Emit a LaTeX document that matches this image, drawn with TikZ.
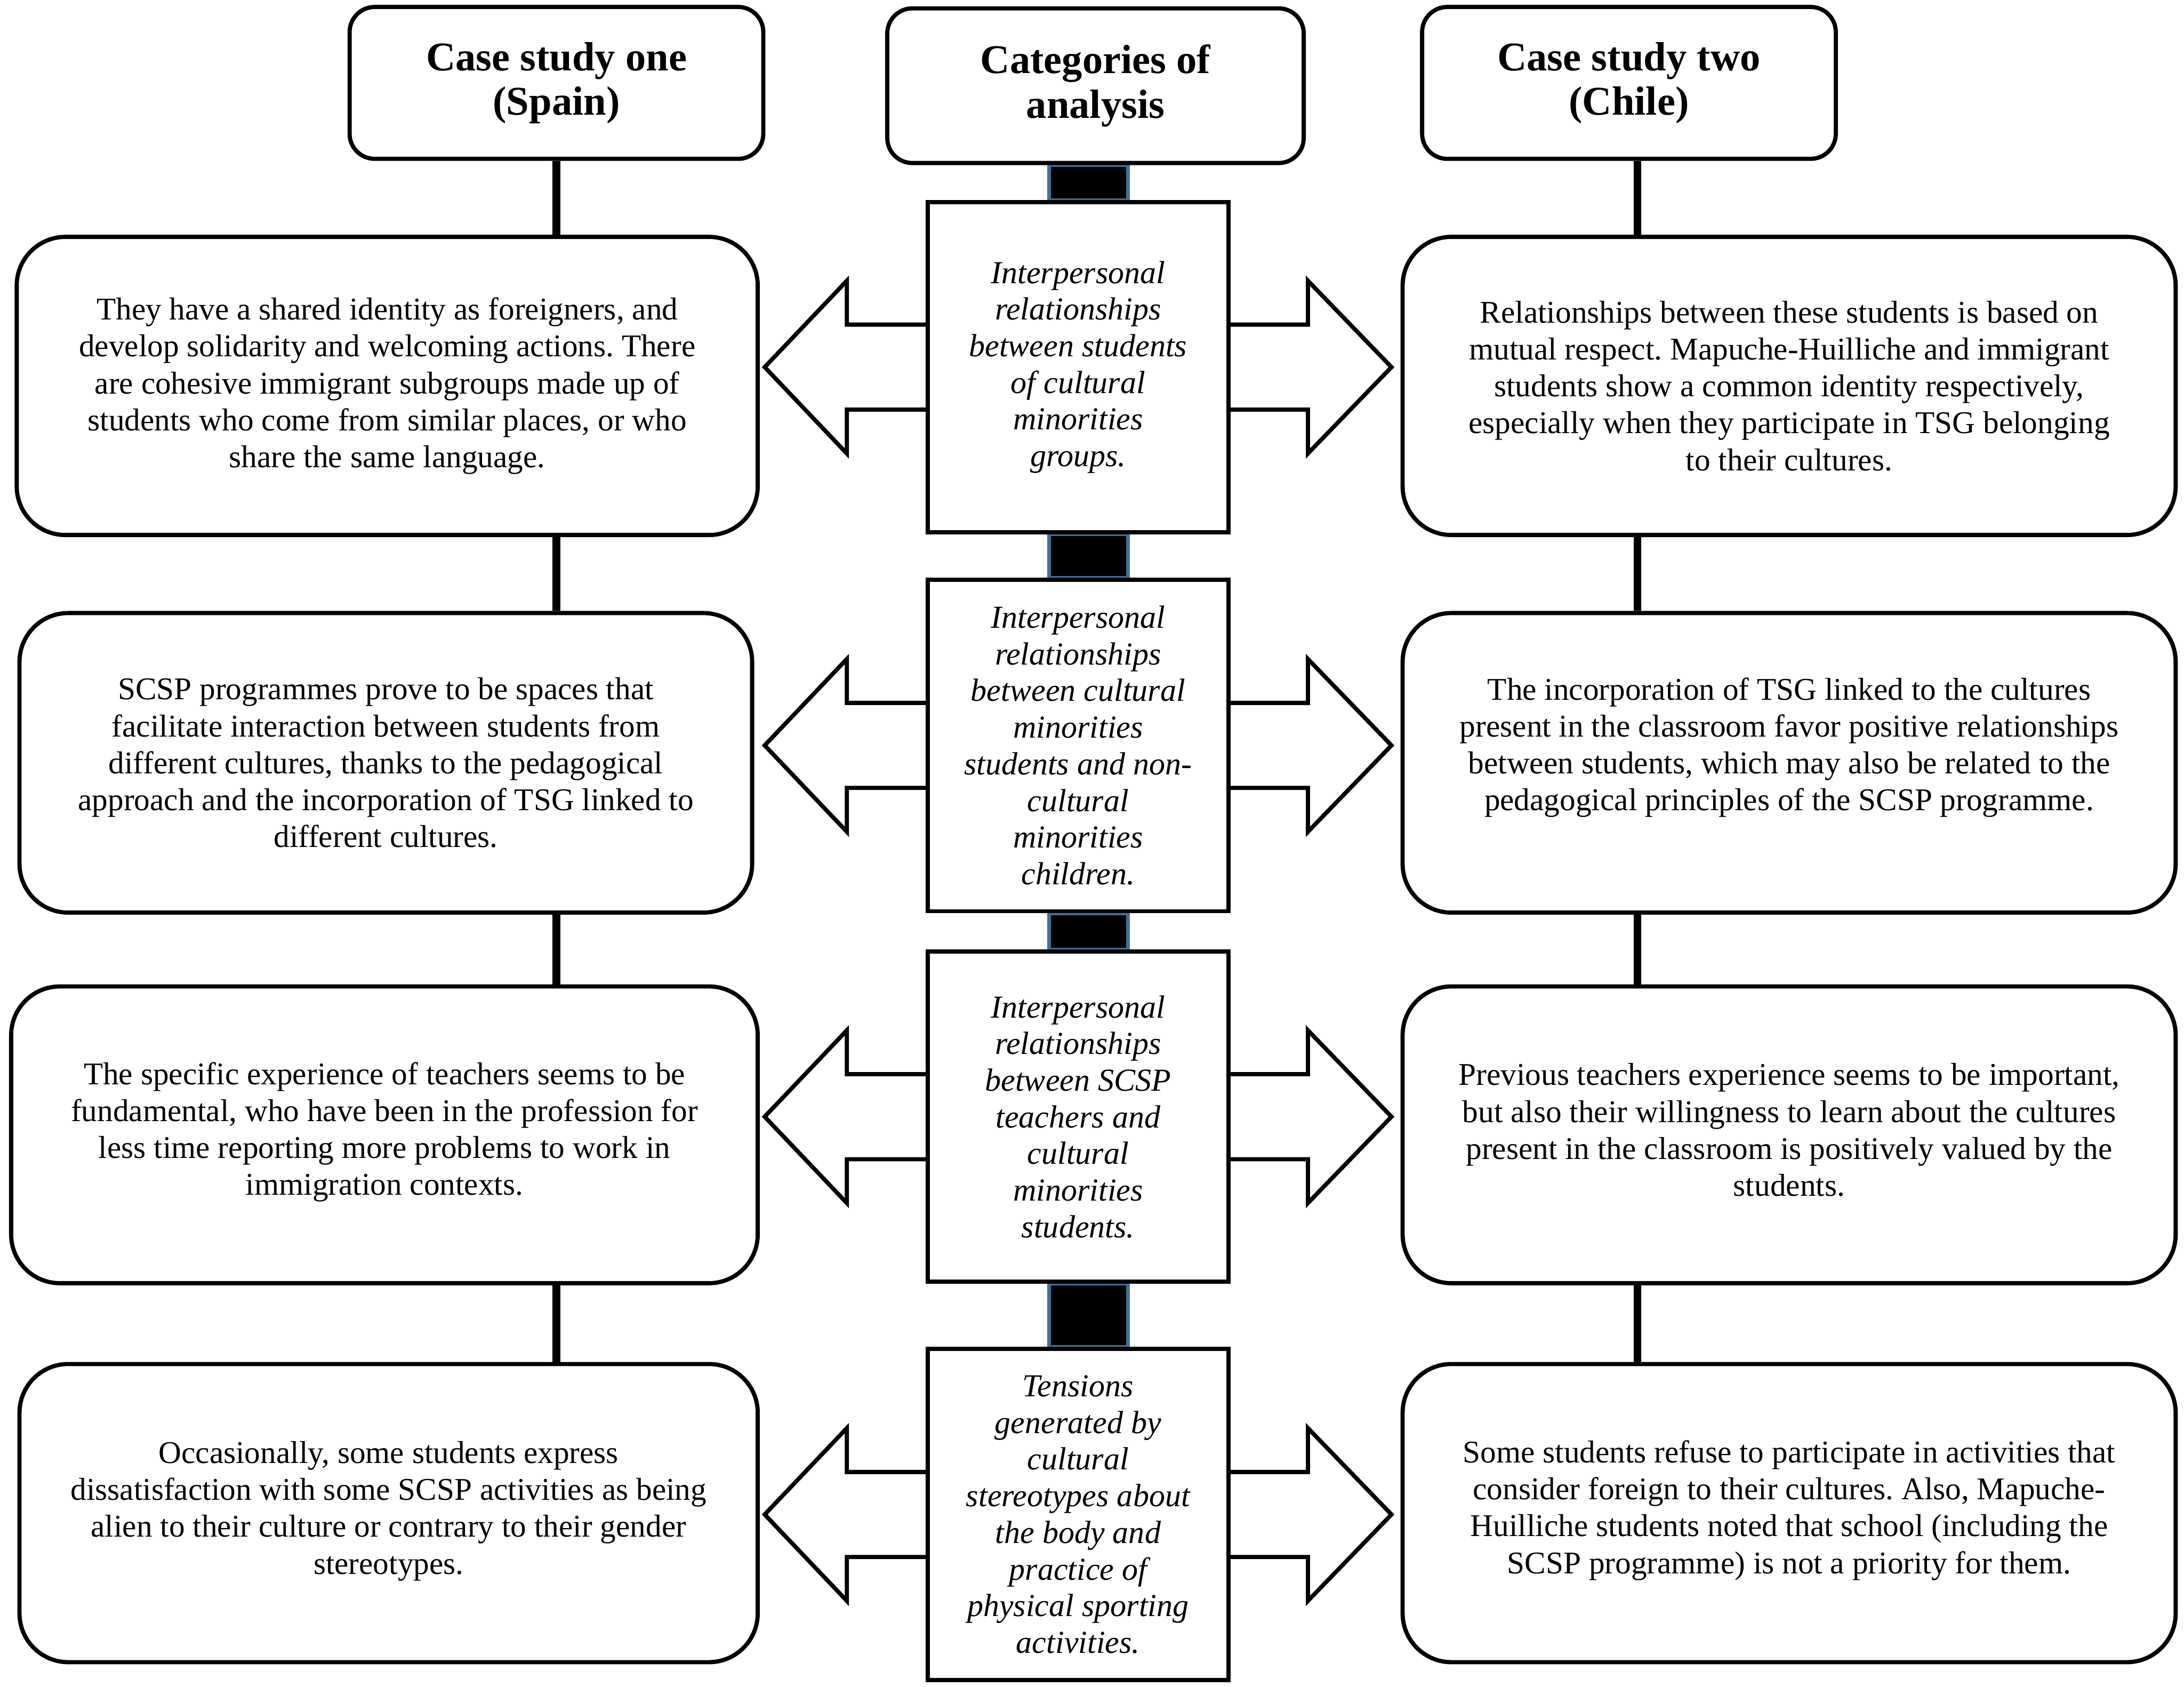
\documentclass[tikz,border=0pt]{standalone}
\usepackage{fontspec}
\setmainfont{Liberation Serif}
\usetikzlibrary{calc,backgrounds}
\definecolor{barblue}{RGB}{65,113,156}
\frenchspacing
\begin{document}
\begin{tikzpicture}[x=1pt,y=-1pt,
  hdr/.style={draw, line width=3pt, rounded corners=18pt, fill=white,
    minimum width=297pt, minimum height=109pt, align=center, inner sep=0pt,
    font=\fontsize{29.3}{32}\selectfont\bfseries},
  cbox/.style={draw, line width=3pt, rounded corners=35pt, fill=white,
    minimum height=214pt, align=center, inner sep=0pt,
    font=\fontsize{22.7}{26.5}\selectfont},
  txt/.style={align=center, inner sep=0pt, font=\fontsize{22.7}{26.5}\selectfont},
  catbox/.style={draw, line width=3pt, fill=white, minimum width=216pt,
    minimum height=237pt, align=center, inner sep=0pt,
    font=\fontsize{23}{26.3}\selectfont\itshape},
  conn/.style={line width=5.5pt, black},
  bar/.style={fill=black, draw=barblue, line width=2.5pt},
  dblarrow/.style={draw, line width=3pt, fill=white, line join=miter}
]
\useasboundingbox (0,0) rectangle (1568,1210.5);

% headers
\node[hdr] (lh) at (399.5,59.5) {Case study one\\(Spain)};
\node[hdr, minimum width=299pt, minimum height=111pt] (ch) at (786.5,61.5) {Categories of\\analysis};
\node[hdr] (rh) at (1169.5,59.5) {Case study two\\(Chile)};

% category boxes
\node[catbox] (c1) at (774,263.5) {Interpersonal\\relationships\\between students\\of cultural\\minorities\\groups.};
\node[catbox, minimum height=238pt] (c2) at (774,535) {Interpersonal\\relationships\\between cultural\\minorities\\students and non-\\cultural\\minorities\\children.};
\node[catbox] (c3) at (774,801.5) {Interpersonal\\relationships\\between SCSP\\teachers and\\cultural\\minorities\\students.};
\node[catbox, minimum height=238pt] (c4) at (774,1087) {Tensions\\generated by\\cultural\\stereotypes about\\the body and\\practice of\\physical sporting\\activities.};

% left column
\node[cbox, minimum width=532pt] (l1) at (278,277) {They have a shared identity as foreigners, and\\develop solidarity and welcoming actions. There\\are cohesive immigrant subgroups made up of\\students who come from similar places, or who\\share the same language.};
\node[cbox, minimum width=526pt, minimum height=215pt] (l2) at (277,547.5) {SCSP programmes prove to be spaces that\\facilitate interaction between students from\\different cultures, thanks to the pedagogical\\approach and the incorporation of TSG linked to\\different cultures.};
\node[cbox, minimum width=536pt, minimum height=213pt] (l3) at (276,814.5) {};
\node[txt] (l3t) at ([yshift=2pt]l3.center) {The specific experience of teachers seems to be\\fundamental, who have been in the profession for\\less time reporting more problems to work in\\immigration contexts.};
\node[cbox, minimum width=530pt] (l4) at (279,1086) {};
\node[txt] (l4t) at ([yshift=1.5pt]l4.center) {Occasionally, some students express\\dissatisfaction with some SCSP activities as being\\alien to their culture or contrary to their gender\\stereotypes.};

% right column
\node[cbox, minimum width=555pt] (r1) at (1284.5,277) {Relationships between these students is based on\\mutual respect. Mapuche-Huilliche and immigrant\\students show a common identity respectively,\\especially when they participate in TSG belonging\\to their cultures.};
\node[cbox, minimum width=555pt, minimum height=215pt] (r2) at (1284.5,547.5) {};
\node[txt] (r2t) at ([yshift=11pt]r2.center) {The incorporation of TSG linked to the cultures\\present in the classroom favor positive relationships\\between students, which may also be related to the\\pedagogical principles of the SCSP programme.};
\node[cbox, minimum width=555pt, minimum height=213pt] (r3) at (1284.5,814.5) {};
\node[txt] (r3t) at ([yshift=3.5pt]r3.center) {Previous teachers experience seems to be important,\\but also their willingness to learn about the cultures\\present in the classroom is positively valued by the\\students.};
\node[cbox, minimum width=555pt] (r4) at (1284.5,1086) {};
\node[txt] (r4t) at ([yshift=2pt]r4.center) {Some students refuse to participate in activities that\\consider foreign to their cultures. Also, Mapuche-\\Huilliche students noted that school (including the\\SCSP programme) is not a priority for them.};

% double arrows and bars behind the category boxes
\begin{scope}[on background layer]
\foreach \c in {c1,c2,c3,c4}{
  \draw[dblarrow] ([shift={(-225,0)}]\c.center) -- ([shift={(-166,-62)}]\c.center)
    -- ([shift={(-166,-30.5)}]\c.center) -- ([shift={(165,-30.5)}]\c.center)
    -- ([shift={(165,-62)}]\c.center) -- ([shift={(225,0)}]\c.center)
    -- ([shift={(165,62)}]\c.center) -- ([shift={(165,30.5)}]\c.center)
    -- ([shift={(-166,30.5)}]\c.center) -- ([shift={(-166,62)}]\c.center) -- cycle;
}
\draw[bar] ([xshift=-20.75pt]c1.north |- ch.south) rectangle ([xshift=35.75pt]c1.north);
\draw[bar] ([xshift=-20.75pt]c1.south) rectangle ([xshift=35.75pt]c2.north);
\draw[bar] ([xshift=-20.75pt]c2.south) rectangle ([xshift=35.75pt]c3.north);
\draw[bar] ([xshift=-20.75pt]c3.south) rectangle ([xshift=35.75pt]c4.north);
\end{scope}

% vertical connectors
\coordinate (lx) at (lh.south);
\coordinate (rx) at ([xshift=6pt]rh.south);
\draw[conn] (lx) -- (lx |- l1.north);
\draw[conn] (l1.south -| lx) -- (l2.north -| lx);
\draw[conn] (l2.south -| lx) -- (l3.north -| lx);
\draw[conn] (l3.south -| lx) -- (l4.north -| lx);
\draw[conn] (rx) -- (rx |- r1.north);
\draw[conn] (r1.south -| rx) -- (r2.north -| rx);
\draw[conn] (r2.south -| rx) -- (r3.north -| rx);
\draw[conn] (r3.south -| rx) -- (r4.north -| rx);
\end{tikzpicture}
\end{document}
